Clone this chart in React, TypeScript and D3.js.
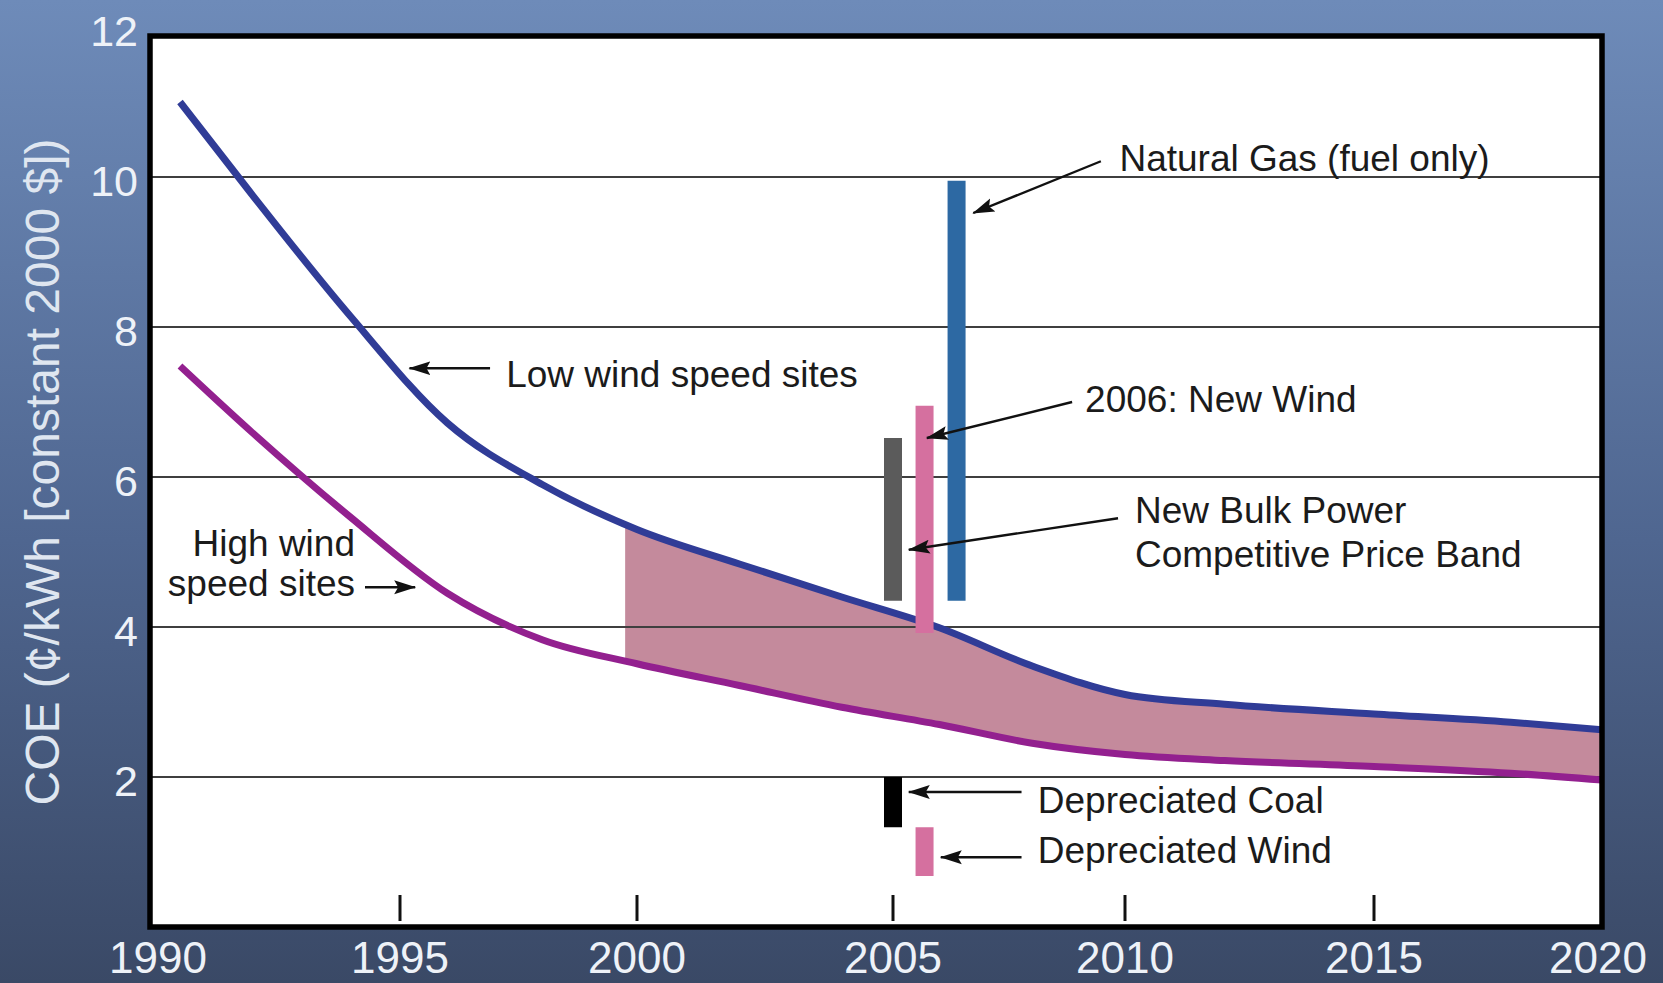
import * as d3 from "d3";
import React, { useEffect, useRef } from "react";

// Cost of energy curves (cents/kWh, constant 2000 $)
const years = [1990.6, 1992, 1994, 1996, 1998, 2000, 2002, 2004, 2006, 2008, 2010, 2012, 2015, 2018, 2020];
const lowWindSites = [11.0, 9.8, 8.15, 6.72, 5.9, 5.3, 4.84, 4.4, 3.99, 3.48, 3.1, 2.97, 2.84, 2.73, 2.63];
const highWindSites = [7.48, 6.62, 5.47, 4.45, 3.83, 3.51, 3.22, 2.93, 2.7, 2.45, 2.3, 2.22, 2.14, 2.05, 1.96];
const bandStartYear = 1999.75;

// price range bars
const barNames = ["New Bulk Power", "2006: New Wind", "Natural Gas", "Depreciated Coal", "Depreciated Wind"];
const barYears = [2005.0, 2005.68, 2006.37, 2005.0, 2005.68];
const barLows = [4.35, 3.92, 4.35, 1.33, 0.68];
const barHighs = [6.52, 6.95, 9.95, 2.0, 1.33];

const xTicks = [1990, 1995, 2000, 2005, 2010, 2015, 2020];
const yTicks = [2, 4, 6, 8, 10, 12];

const W = 1663;
const H = 983;
const tickPx = [150, 400, 637, 893, 1125, 1374, 1602];
const plotTop = 36;
const plotBottom = 927;
const font = '"Liberation Sans", Arial, Helvetica, sans-serif';

const barColors: Record<string, string> = {
  "New Bulk Power": "#5b5b5b",
  "2006: New Wind": "#d5709f",
  "Natural Gas": "#2d69a3",
  "Depreciated Coal": "#000000",
  "Depreciated Wind": "#d5709f",
};

const App = () => {
  const svgRef = useRef<SVGSVGElement>(null);

  useEffect(() => {
    document.body.style.margin = "0";
    const svg = d3.select(svgRef.current);
    svg.selectAll("*").remove();

    const x = d3.scaleLinear().domain(xTicks).range(tickPx);
    const y = d3.scaleLinear().domain([0, 12]).range([927, 27]);
    const left = x(1990);
    const right = x(2020);

    const defs = svg.append("defs");
    const grad = defs
      .append("linearGradient")
      .attr("id", "bg")
      .attr("x1", 0)
      .attr("y1", 0)
      .attr("x2", 0)
      .attr("y2", 1);
    grad.append("stop").attr("offset", "0%").attr("stop-color", "#6e8bb9");
    grad.append("stop").attr("offset", "55%").attr("stop-color", "#4f6690");
    grad.append("stop").attr("offset", "100%").attr("stop-color", "#3a4966");

    defs
      .append("marker")
      .attr("id", "arrow")
      .attr("markerUnits", "userSpaceOnUse")
      .attr("markerWidth", 22)
      .attr("markerHeight", 16)
      .attr("refX", 21)
      .attr("refY", 8)
      .attr("orient", "auto")
      .append("path")
      .attr("d", "M0,1 L22,8 L0,15 L4,8 Z")
      .attr("fill", "#111");

    defs
      .append("clipPath")
      .attr("id", "band")
      .append("rect")
      .attr("x", x(bandStartYear))
      .attr("y", plotTop)
      .attr("width", right - x(bandStartYear))
      .attr("height", plotBottom - plotTop);

    // background + plot area
    svg.append("rect").attr("width", W).attr("height", H).attr("fill", "url(#bg)");
    svg
      .append("rect")
      .attr("x", left)
      .attr("y", plotTop)
      .attr("width", right - left)
      .attr("height", plotBottom - plotTop)
      .attr("fill", "#fff");

    const rows = years.map((yr, i) => ({ yr, low: lowWindSites[i], high: highWindSites[i] }));

    // band between the two curves
    const area = d3
      .area<any>()
      .x((d) => x(d.yr))
      .y0((d) => y(d.high))
      .y1((d) => y(d.low))
      .curve(d3.curveMonotoneX);
    svg
      .append("path")
      .datum(rows)
      .attr("d", area)
      .attr("fill", "#c48a9c")
      .attr("clip-path", "url(#band)");

    // gridlines
    svg
      .append("g")
      .selectAll("line")
      .data(yTicks.filter((v) => v < 12))
      .join("line")
      .attr("x1", left)
      .attr("x2", right)
      .attr("y1", (d) => y(d))
      .attr("y2", (d) => y(d))
      .attr("stroke", "#3f3f3f")
      .attr("stroke-width", 2.2);

    // curves
    const lowLine = d3
      .line<any>()
      .x((d) => x(d.yr))
      .y((d) => y(d.low))
      .curve(d3.curveMonotoneX);
    const highLine = d3
      .line<any>()
      .x((d) => x(d.yr))
      .y((d) => y(d.high))
      .curve(d3.curveMonotoneX);
    svg
      .append("path")
      .datum(rows)
      .attr("d", highLine)
      .attr("fill", "none")
      .attr("stroke", "#93208f")
      .attr("stroke-width", 7);
    svg
      .append("path")
      .datum(rows)
      .attr("d", lowLine)
      .attr("fill", "none")
      .attr("stroke", "#303c97")
      .attr("stroke-width", 7);

    // bars
    const barW = 18;
    svg
      .append("g")
      .selectAll("rect")
      .data(barNames)
      .join("rect")
      .attr("x", (d, i) => x(barYears[i]) - barW / 2)
      .attr("y", (d, i) => y(barHighs[i]))
      .attr("width", barW)
      .attr("height", (d, i) => y(barLows[i]) - y(barHighs[i]))
      .attr("fill", (d) => barColors[d]);

    // x tick marks
    svg
      .append("g")
      .selectAll("line")
      .data(xTicks.slice(1, -1))
      .join("line")
      .attr("x1", (d) => x(d))
      .attr("x2", (d) => x(d))
      .attr("y1", 895)
      .attr("y2", 921)
      .attr("stroke", "#111")
      .attr("stroke-width", 3);

    // frame
    svg
      .append("rect")
      .attr("x", left)
      .attr("y", plotTop)
      .attr("width", right - left)
      .attr("height", plotBottom - plotTop)
      .attr("fill", "none")
      .attr("stroke", "#000")
      .attr("stroke-width", 5.5);

    // axis labels
    svg
      .append("g")
      .selectAll("text")
      .data(xTicks)
      .join("text")
      .attr("x", (d, i) => x(d) + (i === 0 ? 8 : i === xTicks.length - 1 ? -4 : 0))
      .attr("y", 973)
      .attr("text-anchor", "middle")
      .attr("font-family", font)
      .attr("font-size", 44)
      .attr("fill", "#eef2f8")
      .text((d) => d);

    svg
      .append("g")
      .selectAll("text")
      .data(yTicks)
      .join("text")
      .attr("x", 138)
      .attr("y", (d) => y(d) + 4)
      .attr("dominant-baseline", "central")
      .attr("text-anchor", "end")
      .attr("font-family", font)
      .attr("font-size", 43)
      .attr("fill", "#eef2f8")
      .text((d) => d);

    svg
      .append("text")
      .attr("transform", "translate(59,472) rotate(-90)")
      .attr("text-anchor", "middle")
      .attr("font-family", font)
      .attr("font-size", 48)
      .attr("fill", "#dfe6f0")
      .text("COE (¢/kWh [constant 2000 $])");

    // annotations (positions in data units)
    const note = (lines: string[], yr: number, vals: number[], anchor = "start") => {
      lines.forEach((t, i) => {
        svg
          .append("text")
          .attr("x", x(yr))
          .attr("y", y(vals[i]))
          .attr("text-anchor", anchor)
          .attr("font-family", font)
          .attr("font-size", 37)
          .attr("fill", "#1b1b1b")
          .text(t);
      });
    };
    const arrow = (y0: number, v0: number, y1: number, v1: number) => {
      svg
        .append("line")
        .attr("x1", x(y0))
        .attr("y1", y(v0))
        .attr("x2", x(y1))
        .attr("y2", y(v1))
        .attr("stroke", "#111")
        .attr("stroke-width", 2.4)
        .attr("marker-end", "url(#arrow)");
    };

    note(["Low wind speed sites"], 1997.24, [7.2]);
    arrow(1996.9, 7.45, 1995.2, 7.45);

    note(["High wind", "speed sites"], 1994.1, [4.95, 4.41], "end");
    arrow(1994.3, 4.53, 1995.32, 4.53);

    note(["Natural Gas (fuel only)"], 2009.88, [10.08]);
    arrow(2009.48, 10.21, 2006.73, 9.52);

    note(["2006: New Wind"], 2009.14, [6.87]);
    arrow(2008.86, 7.0, 2005.73, 6.52);

    note(["New Bulk Power", "Competitive Price Band"], 2010.2, [5.39, 4.8]);
    arrow(2009.85, 5.45, 2005.34, 5.03);

    note(["Depreciated Coal"], 2008.12, [1.52]);
    arrow(2007.77, 1.8, 2005.34, 1.8);

    note(["Depreciated Wind"], 2008.12, [0.85]);
    arrow(2007.77, 0.93, 2006.03, 0.93);

    return () => {
      svg.selectAll("*").remove();
    };
  }, []);

  return <svg ref={svgRef} width={W} height={H} style={{ display: "block" }}></svg>;
};

export default App;
